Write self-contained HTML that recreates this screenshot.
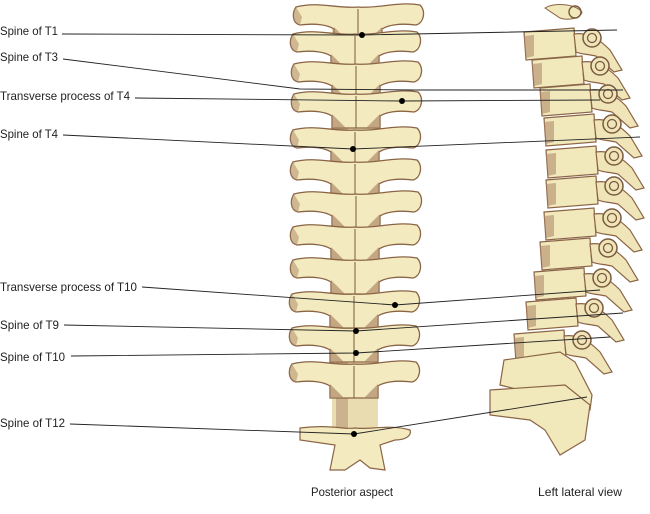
<!DOCTYPE html>
<html><head><meta charset="utf-8"><style>html,body{margin:0;padding:0;background:#fff;width:650px;height:514px;overflow:hidden}</style></head><body>
<svg width="650" height="514" viewBox="0 0 650 514" xmlns="http://www.w3.org/2000/svg">
<defs>
<g id="pv">
 <path d="M-62,-8 C-40,-14 -20,-6 0,-8 C20,-6 40,-14 62,-10 C68,-4 66,8 58,10 C42,8 30,10 24,14 L24,26 L-24,26 L-24,14 C-30,10 -42,8 -58,10 C-66,8 -66,-2 -62,-8 Z" fill="#f3ebbf" stroke="#8a6446" stroke-width="1.3"/>
 <path d="M-24,12 L-24,26 L-10,26 Z M24,12 L24,26 L10,26 Z" fill="#a98363" opacity="0.65"/>
 <path d="M-62,-8 C-66,-2 -66,8 -58,10 L-56,2 Z" fill="#a98363" opacity="0.5"/>
 <line x1="0" y1="-6" x2="0" y2="26" stroke="#7a5a40" stroke-width="1"/>
</g>
<g id="lv">
 <path d="M0,0 L50,-4 L52,24 L2,28 Z" fill="#f1e8bc" stroke="#8a6446" stroke-width="1.2"/>
 <path d="M50,2 C64,0 74,6 86,18 L98,38 L90,40 L72,24 C62,22 56,22 52,20 Z" fill="#efe5b8" stroke="#8a6446" stroke-width="1.2"/>
 <circle cx="68" cy="6" r="9" fill="#efe5b8" stroke="#7a5a40" stroke-width="1.5"/>
 <circle cx="68" cy="6" r="4.5" fill="none" stroke="#7a5a40" stroke-width="1.3"/>
 <path d="M0,4 L10,3 L10,24 L2,26 Z" fill="#b08b6b" opacity="0.6"/>
</g>
</defs>
<rect x="332" y="20" width="46" height="420" fill="#e9dcb0"/>
<rect x="336" y="60" width="12" height="370" fill="#b9977a" opacity="0.6"/>
<g>
<use href="#pv" x="358" y="15"/>
<use href="#pv" x="355" y="42"/>
<use href="#pv" x="356" y="72"/>
<use href="#pv" x="356" y="102"/>
<use href="#pv" x="355" y="138"/>
<use href="#pv" x="355" y="170"/>
<use href="#pv" x="356" y="202"/>
<use href="#pv" x="355" y="235"/>
<use href="#pv" x="355" y="268"/>
<use href="#pv" x="354" y="302"/>
<use href="#pv" x="354" y="336"/>
<use href="#pv" x="354" y="372"/>
</g>
<path d="M300,428 C330,424 345,430 355,428 C370,430 390,424 410,430 C412,436 405,440 395,440 L380,445 L385,470 L370,468 L360,460 L345,470 L330,470 L335,445 L300,440 Z" fill="#f3ebbf" stroke="#8a6446" stroke-width="1.2"/>
<g>
<path d="M545,8 C555,2 575,4 582,12 C580,20 565,20 560,18 Z" fill="#f1e8bc" stroke="#8a6446"/>
<circle cx="575" cy="12" r="6" fill="none" stroke="#7a5a40" stroke-width="1.4"/>
<use href="#lv" x="524" y="32"/>
<use href="#lv" x="532" y="60"/>
<use href="#lv" x="540" y="88"/>
<use href="#lv" x="544" y="118"/>
<use href="#lv" x="546" y="150"/>
<use href="#lv" x="546" y="180"/>
<use href="#lv" x="544" y="212"/>
<use href="#lv" x="540" y="242"/>
<use href="#lv" x="534" y="272"/>
<use href="#lv" x="526" y="302"/>
<use href="#lv" x="514" y="334"/>
<path d="M504,360 L560,352 L575,362 L592,395 L590,410 L575,412 L560,400 L500,385 Z" fill="#f1e8bc" stroke="#8a6446" stroke-width="1.2"/>
<path d="M490,390 L565,385 L590,405 L585,440 L560,455 L545,430 L530,420 L490,415 Z" fill="#f1e8bc" stroke="#8a6446" stroke-width="1.2"/>
</g>
<g stroke="#222" stroke-width="0.9" fill="none">
<polyline points="62,34 362,35 617,30"/>
<polyline points="63,59 300,89 417,90 623,90"/>
<polyline points="135,98 402,101 600,100"/>
<polyline points="63,135 353,149 640,137"/>
<polyline points="142,287 395,305 600,290"/>
<polyline points="64,325 356,331 623,313"/>
<polyline points="71,356 356,353 610,337"/>
<polyline points="70,424 354,434 587,397"/>
</g>
<g fill="#000">
<circle cx="362" cy="35" r="3"/><circle cx="402" cy="101" r="3"/><circle cx="353" cy="149" r="3"/>
<circle cx="395" cy="305" r="3"/><circle cx="356" cy="331" r="3"/><circle cx="356" cy="353" r="3"/><circle cx="354" cy="434" r="3"/>
</g>
<g font-family="Liberation Sans, sans-serif" font-size="12" fill="#222">
<text x="0" y="35" textLength="58" lengthAdjust="spacingAndGlyphs">Spine of T1</text>
<text x="0" y="61" textLength="58" lengthAdjust="spacingAndGlyphs">Spine of T3</text>
<text x="0" y="100" textLength="130" lengthAdjust="spacingAndGlyphs">Transverse process of T4</text>
<text x="0" y="138" textLength="58" lengthAdjust="spacingAndGlyphs">Spine of T4</text>
<text x="0" y="291" textLength="137" lengthAdjust="spacingAndGlyphs">Transverse process of T10</text>
<text x="0" y="329" textLength="59" lengthAdjust="spacingAndGlyphs">Spine of T9</text>
<text x="0" y="361" textLength="65" lengthAdjust="spacingAndGlyphs">Spine of T10</text>
<text x="0" y="427" textLength="65" lengthAdjust="spacingAndGlyphs">Spine of T12</text>
<text x="311" y="496" textLength="82" lengthAdjust="spacingAndGlyphs">Posterior aspect</text>
<text x="538" y="496" textLength="84" lengthAdjust="spacingAndGlyphs">Left lateral view</text>
</g>
</svg>
</body></html>
